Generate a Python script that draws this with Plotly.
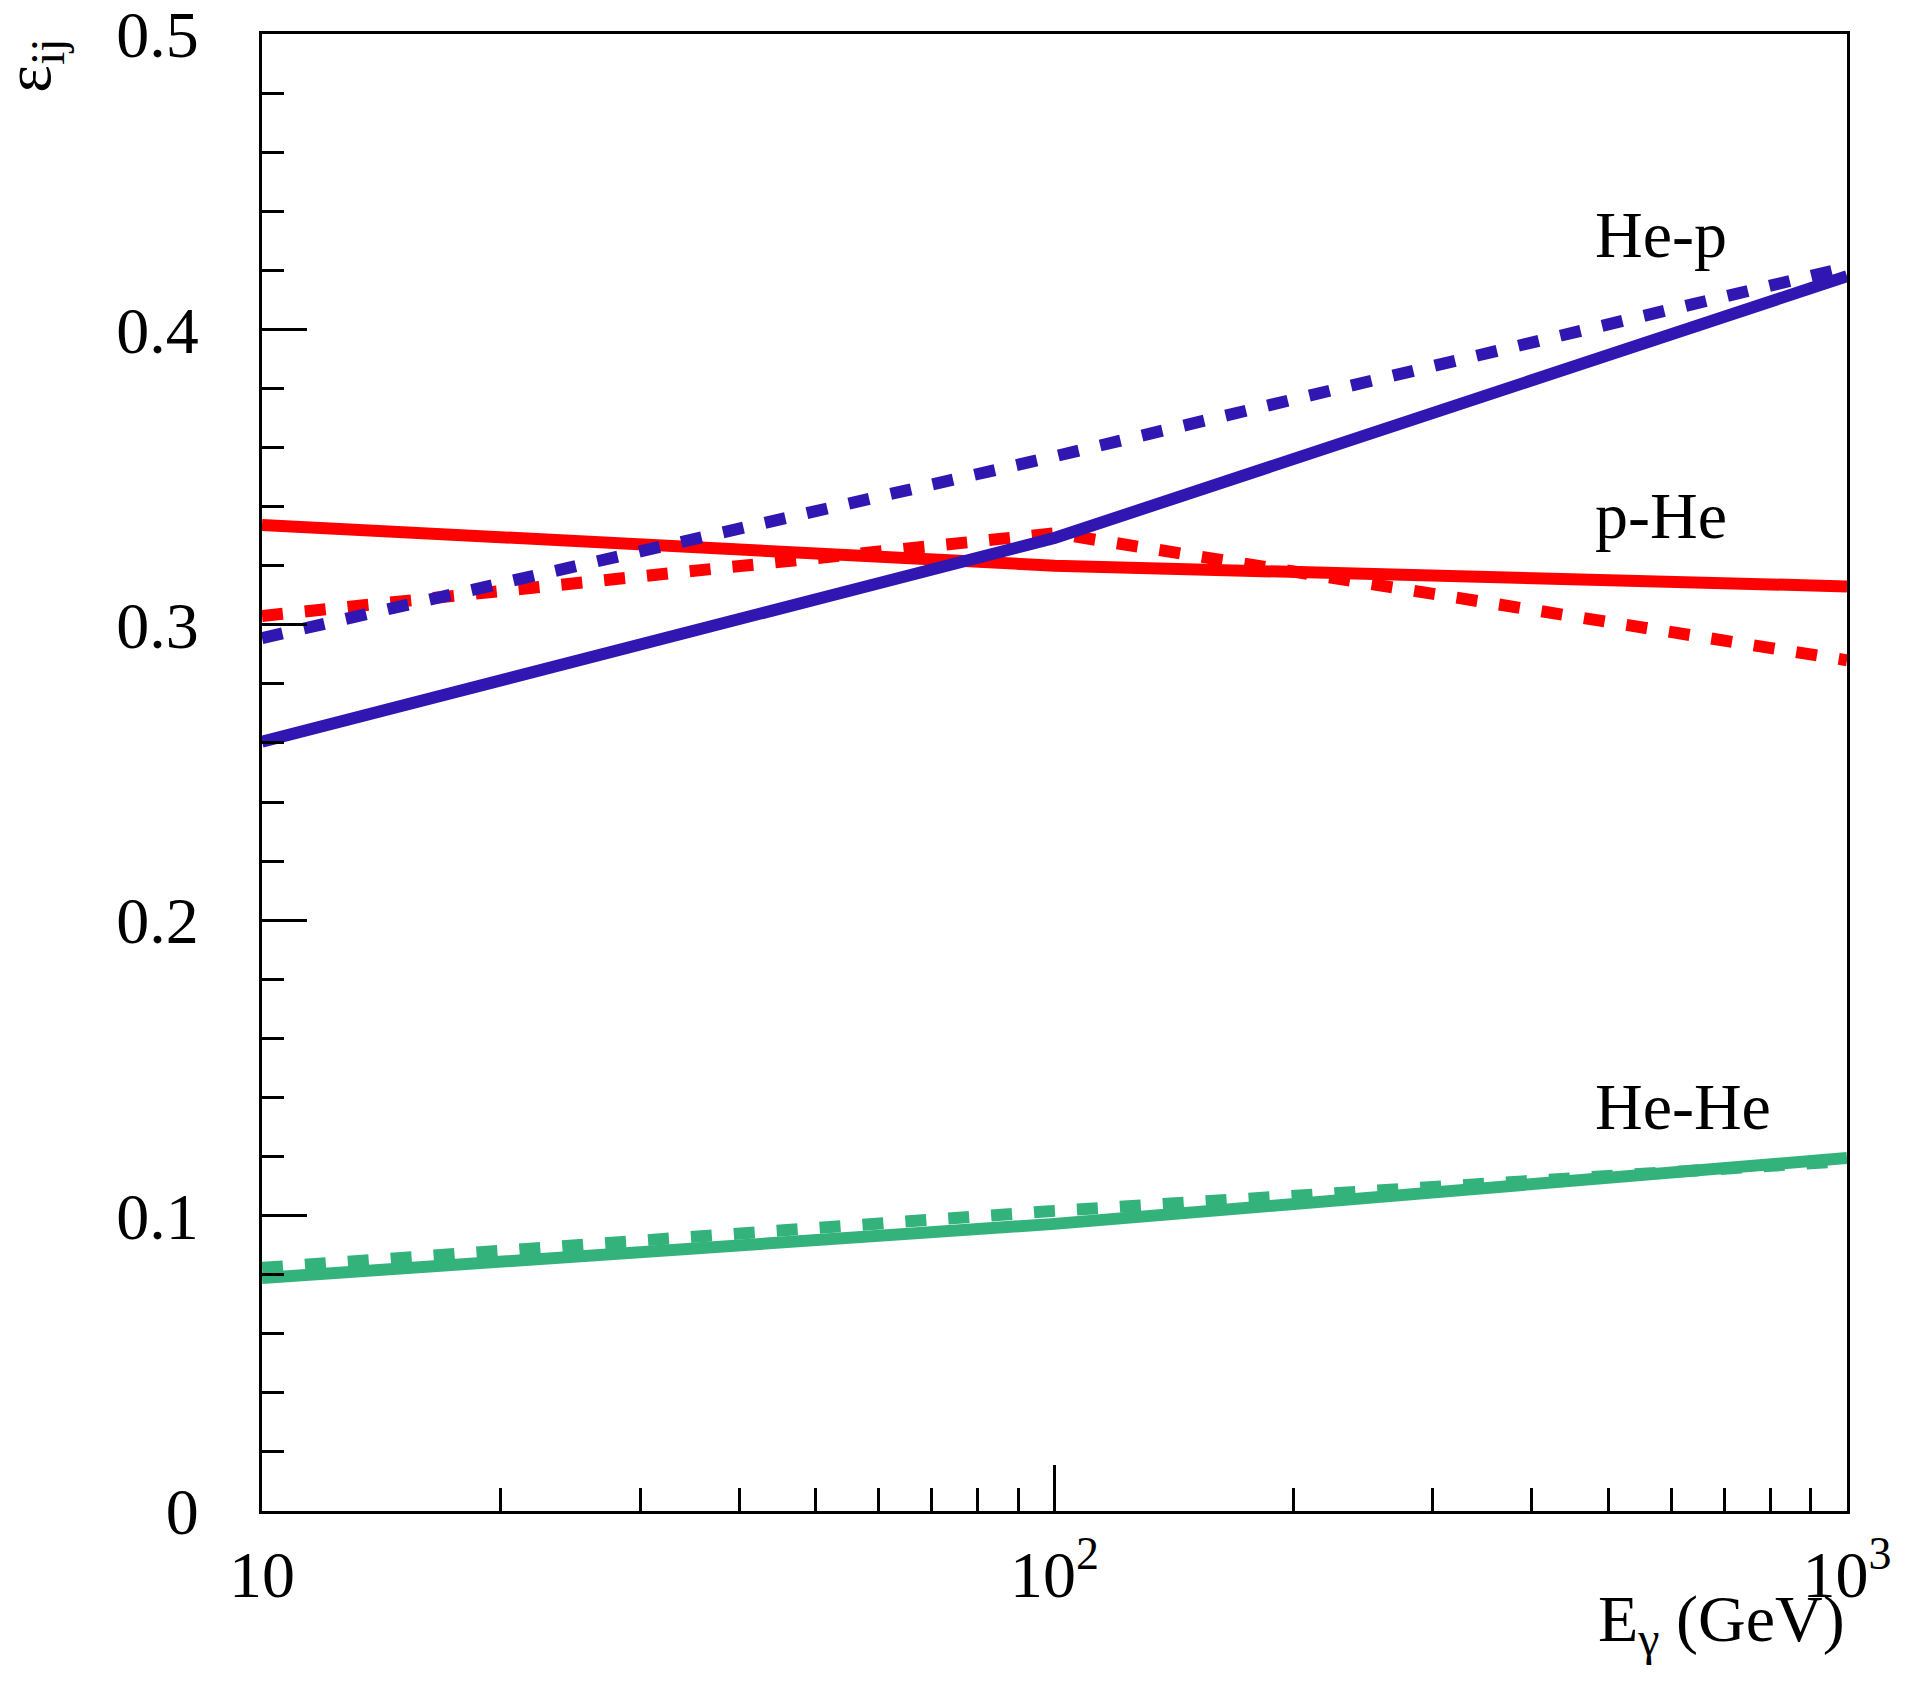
import plotly.graph_objects as go

# Energies (GeV) at which values were read
energy = [10, 100, 1000]

# epsilon_ij values
pHe_solid = [0.3338, 0.3200, 0.3130]
pHe_dashed = [0.3030, 0.3310, 0.2880]
Hep_solid = [0.2604, 0.3294, 0.4180]
Hep_dashed = [0.2955, 0.3570, 0.4210]
HeHe_solid = [0.0789, 0.0972, 0.1195]
HeHe_dashed = [0.0823, 0.1016, 0.1185]

SUP = "<sup><span style='font-size:46px'>%s</span></sup>"
x_tickvals = [10, 100, 1000]
x_ticktext = ["10", "10" + SUP % "2", "10" + SUP % "3"]
x_minor = [20, 30, 40, 50, 60, 70, 80, 90, 200, 300, 400, 500, 600, 700, 800, 900]
y_tickvals = [0, 0.1, 0.2, 0.3, 0.4, 0.5]
y_ticktext = ["0", "0.1", "0.2", "0.3", "0.4", "0.5"]

RED = "#ff0000"
BLUE = "#3116b2"
GREEN = "#33b37b"
DASH = "21px,22px"
LW = 12
FONT = "Liberation Serif"

fig = go.Figure()
series = [
    (pHe_solid, RED, "solid"),
    (pHe_dashed, RED, DASH),
    (Hep_solid, BLUE, "solid"),
    (Hep_dashed, BLUE, DASH),
    (HeHe_solid, GREEN, "solid"),
    (HeHe_dashed, GREEN, DASH),
]
for vals, col, dash in series:
    fig.add_trace(go.Scatter(x=energy, y=vals, mode="lines",
                             line=dict(color=col, width=LW, dash=dash),
                             showlegend=False, hoverinfo="skip"))

fig.update_layout(
    width=1904, height=1673,
    margin=dict(l=254, r=65, t=26, b=170),
    paper_bgcolor="white", plot_bgcolor="white",
    font=dict(family=FONT, size=66, color="black"),
)
fig.update_xaxes(
    type="log", range=[1, 3], automargin=False,
    tickmode="array", tickvals=x_tickvals, ticktext=x_ticktext,
    ticks="inside", ticklen=46, tickwidth=2.5, tickcolor="black",
    minor=dict(tickmode="array", tickvals=x_minor, ticks="inside",
               ticklen=23, tickwidth=2.5, tickcolor="black", showgrid=False),
    showline=True, linecolor="black", linewidth=3, mirror=True,
    showgrid=False, zeroline=False,
    tickfont=dict(family=FONT, size=66),
    ticklabelstandoff=4, ticklabeloverflow="allow",
)
fig.update_yaxes(
    range=[-0.000001, 0.500001], automargin=False,
    tickmode="array", tickvals=y_tickvals, ticktext=y_ticktext,
    ticks="inside", ticklen=45, tickwidth=2.5, tickcolor="black",
    minor=dict(dtick=0.02, ticks="inside", ticklen=22, tickwidth=2.5,
               tickcolor="black", showgrid=False),
    showline=True, linecolor="black", linewidth=3, mirror=True,
    showgrid=False, zeroline=False,
    tickfont=dict(family=FONT, size=66),
    ticklabelstandoff=47, ticklabeloverflow="allow",
)

labels = [("He-p", 0.864), ("p-He", 0.674), ("He-He", 0.274)]
for txt, yy in labels:
    fig.add_annotation(text=txt, xref="paper", yref="paper", x=0.840, y=yy,
                       xanchor="left", yanchor="middle", showarrow=False,
                       font=dict(family=FONT, size=66, color="black"))

fig.add_annotation(text="E<sub><span style='font-size:48px'>γ</span></sub> (GeV)",
                   xref="paper", yref="paper",
                   x=1.0, y=-0.076, xanchor="right", yanchor="middle",
                   showarrow=False, font=dict(family=FONT, size=66, color="black"))
fig.add_annotation(text="ε<sub><span style='font-size:48px'>ij</span></sub>",
                   xref="paper", yref="paper",
                   x=-0.172, y=0.998, xanchor="left", yanchor="top", textangle=-90,
                   showarrow=False, font=dict(family=FONT, size=66, color="black"))

fig.write_html("out.html")
